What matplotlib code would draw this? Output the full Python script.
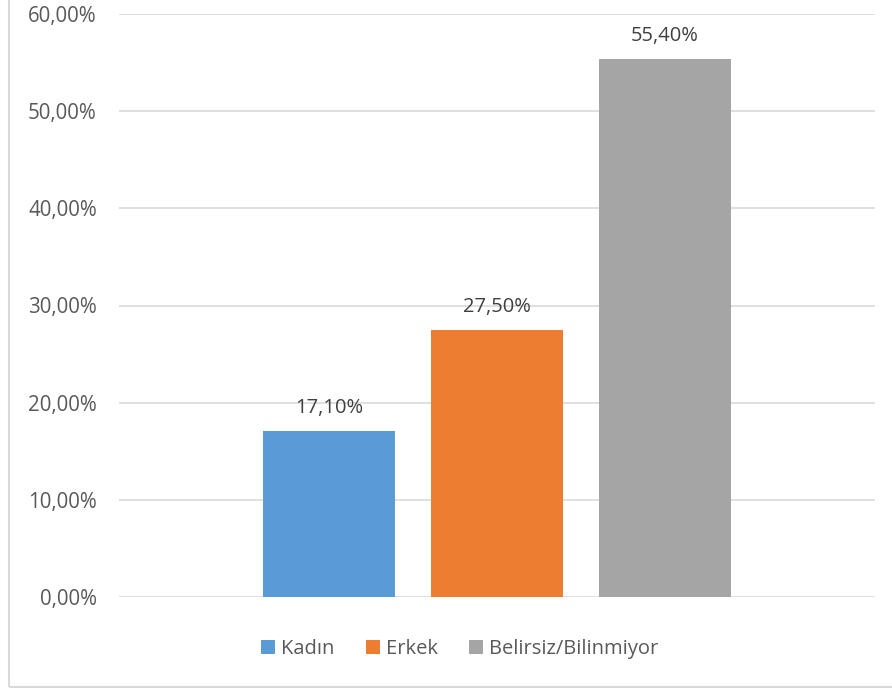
import matplotlib.pyplot as plt
from matplotlib.patches import Rectangle
from matplotlib.ticker import FuncFormatter

# Veriler
kategoriler = ['Kadın', 'Erkek', 'Belirsiz/Bilinmiyor']
oranlar = [17.10, 27.50, 55.40]
renkler = ['#5B9BD5', '#ED7D31', '#A5A5A5']
y_ticks = [0, 10, 20, 30, 40, 50, 60]

plt.rcParams['font.family'] = ['Open Sans', 'DejaVu Sans']
yazi_rengi = '#595959'


def yuzde(v):
    return f'{v:.2f}%'.replace('.', ',')


fig = plt.figure(figsize=(8.92, 6.93), dpi=100)
ax = fig.add_axes([119 / 892, 96 / 693, 756 / 892, 583 / 693])

# Grafik çerçevesi
fig.patches.append(Rectangle((9 / 892, 6 / 693), 1.2, 1.2, transform=fig.transFigure,
                             fill=False, edgecolor='#d9d9d9', linewidth=1.5))

for i, (k, v, r) in enumerate(zip(kategoriler, oranlar, renkler)):
    ax.bar(i, v, width=0.787, color=r, label=k, zorder=3)
    ax.text(i, v + 1.3, yuzde(v), ha='center', va='bottom',
            fontsize=14.5, color='#404040', zorder=4)

ax.set_xlim(-1.253, 3.253)
ax.set_ylim(0, 60)
ax.set_yticks(y_ticks)
ax.yaxis.set_major_formatter(FuncFormatter(lambda v, p: yuzde(v)))
ax.tick_params(axis='y', length=0, pad=16, labelsize=14.8, labelcolor=yazi_rengi)
ax.set_xticks([])
ax.grid(axis='y', color='#d9d9d9', linewidth=1.2, zorder=0)
for s in ax.spines.values():
    s.set_visible(False)

fig.legend(loc='center', bbox_to_anchor=(460 / 892, 44 / 693), ncol=3, frameon=False,
           fontsize=14.5, labelcolor=yazi_rengi, handlelength=0.7, handleheight=0.7,
           handletextpad=0.3, columnspacing=1.55)

fig.savefig('out.png', dpi=100)
